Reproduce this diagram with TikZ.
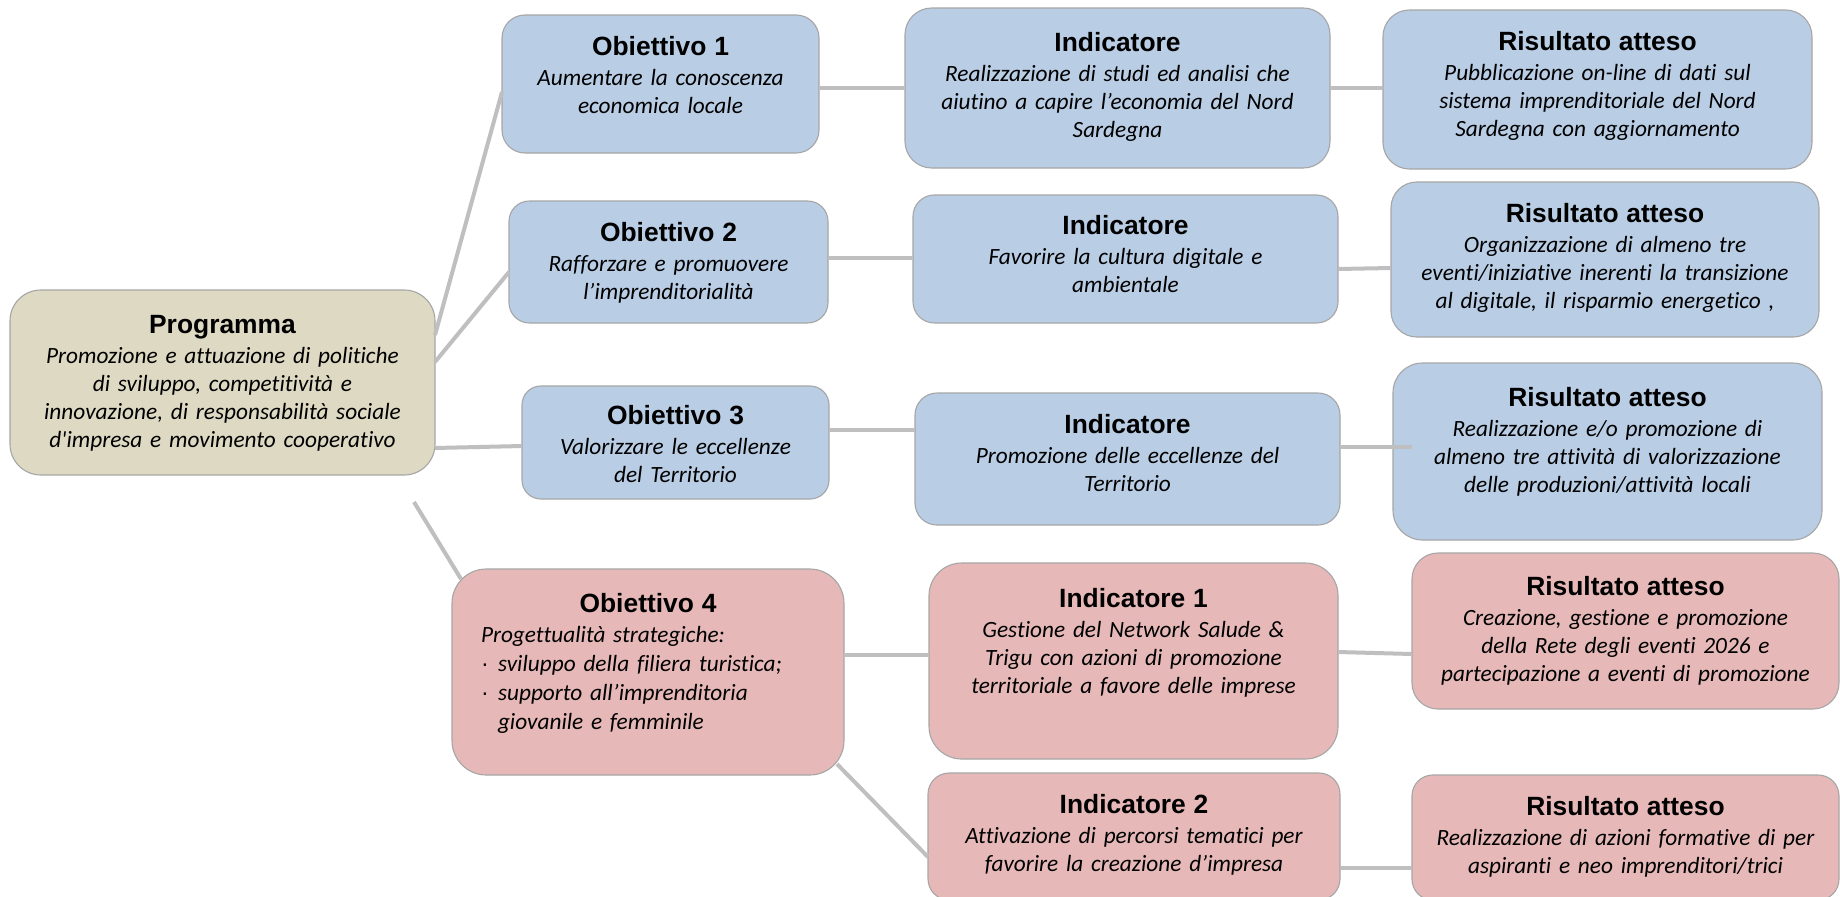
\documentclass[tikz,border=0pt]{standalone}
\usepackage{fontspec}
\setmainfont{Carlito}
\newfontfamily\headf{Liberation Sans}[Ligatures=TeXOff]
\newfontfamily\bodyf{Carlito Italic}[Ligatures={TeXOff,CommonOff}]

\definecolor{boxblue}{HTML}{B9CDE5}
\definecolor{boxbeige}{HTML}{DDD9C3}
\definecolor{boxpink}{HTML}{E6B9B8}
\definecolor{edge}{HTML}{A6A6A6}
\definecolor{linkgray}{HTML}{BFBFBF}

% heading line of a box
\newcommand\hd[1]{{\headf\bfseries\upshape\fontsize{26.4}{28.3}\selectfont #1}}

% box from (x1,y1) to (x2,y2), text base line at y = #7
\newcommand\dbox[8]{%
  \pgfmathsetmacro\bw{#5-#3}%
  \pgfmathsetmacro\bh{#6-#4}%
  \pgfmathsetmacro\br{min(\bw,\bh)/6}%
  \node[frame,#2,minimum width=\bw pt,minimum height=\bh pt,
        rounded corners=\br pt,anchor=north west] (#1) at (#3,#4) {};
  \node[txt,text width=\bw pt] (#1-txt) at ({(#3+#5)/2},#7) {#8};
}

\tikzset{
  frame/.style={draw=edge,line width=1.1pt,inner sep=0pt,outer sep=0pt},
  blue/.style={fill=boxblue},
  beige/.style={fill=boxbeige},
  pink/.style={fill=boxpink},
  txt/.style={inner sep=0pt,anchor=base,align=center,
    font=\bodyf\fontsize{23.3}{28.3}\selectfont},
  link/.style={draw=linkgray,line width=4pt},
}

\begin{document}
\begin{tikzpicture}[x=1pt,y=-1pt]
\fill[white] (0,0) rectangle (1840,897);
\useasboundingbox (0,0) rectangle (1840,897);

% programme
\dbox{prog}{beige}{10}{290}{435}{475}{333}{\hd{Programma}\\[1.7pt]
  Promozione e attuazione di politiche\\ di sviluppo, competitività e\\
  innovazione, di responsabilità sociale\\ d'impresa e movimento cooperativo}

% objectives
\dbox{o1}{blue}{502}{15}{819}{153}{55}{\hd{Obiettivo 1}\\[1.7pt]
  Aumentare la conoscenza\\ economica locale}
\dbox{o2}{blue}{509}{201}{828}{323}{241}{\hd{Obiettivo 2}\\[1.7pt]
  Rafforzare e promuovere\\ l’imprenditorialità}
\dbox{o3}{blue}{522}{386}{829}{499}{424}{\hd{Obiettivo 3}\\[1.7pt]
  Valorizzare le eccellenze\\ del Territorio}
\dbox{o4}{pink}{452}{569}{844}{775}{612}{\hd{Obiettivo 4}\\[1.7pt]
  \parbox[t]{334pt}{\raggedright\baselineskip=29pt
  Progettualità strategiche:\\
  \makebox[17pt][l]{\headf ·}sviluppo della filiera turistica;\\
  \makebox[17pt][l]{\headf ·}supporto all’imprenditoria\\
  \hspace*{17pt}giovanile e femminile}}

% indicators
\dbox{i1}{blue}{905}{8}{1330}{168}{51}{\hd{Indicatore}\\[1.7pt]
  Realizzazione di studi ed analisi che\\ aiutino a capire l’economia del Nord\\ Sardegna}
\dbox{i2}{blue}{913}{195}{1338}{323}{234}{\hd{Indicatore}\\[1.7pt]
  Favorire la cultura digitale e\\ ambientale}
\dbox{i3}{blue}{915}{393}{1340}{525}{433}{\hd{Indicatore}\\[1.7pt]
  Promozione delle eccellenze del\\ Territorio}
\dbox{i4}{pink}{929}{563}{1338}{759}{607}{\hd{Indicatore 1}\\[1.7pt]
  Gestione del Network Salude \&\\ Trigu con azioni di promozione\\
  territoriale a favore delle imprese}
\dbox{i5}{pink}{928}{773}{1340}{900}{813}{\hd{Indicatore 2}\\[1.7pt]
  Attivazione di percorsi tematici per\\ favorire la creazione d’impresa}

% expected results
\dbox{r1}{blue}{1383}{10}{1812}{169}{50}{\hd{Risultato atteso}\\[1.7pt]
  Pubblicazione on-line di dati sul\\ sistema imprenditoriale del Nord\\
  Sardegna con aggiornamento}
\dbox{r2}{blue}{1391}{182}{1819}{337}{222}{\hd{Risultato atteso}\\[1.7pt]
  Organizzazione di almeno tre\\ eventi/iniziative inerenti la transizione\\
  al digitale, il risparmio energetico ,}
\dbox{r3}{blue}{1393}{363}{1822}{540}{406}{\hd{Risultato atteso}\\[1.7pt]
  Realizzazione e/o promozione di\\ almeno tre attività di valorizzazione\\
  delle produzioni/attività locali}
\dbox{r4}{pink}{1412}{553}{1839}{709}{595}{\hd{Risultato atteso}\\[1.7pt]
  Creazione, gestione e promozione\\ della Rete degli eventi 2026 e\\
  partecipazione a eventi di promozione}
\dbox{r5}{pink}{1412}{775}{1839}{900}{815}{\hd{Risultato atteso}\\[1.7pt]
  Realizzazione di azioni formative di per\\ aspiranti e neo imprenditori/trici}

% connectors
\draw[link] ([yshift=-45pt]prog.north east) -- ([yshift=-77pt]o1.north west);
\draw[link] ([yshift=-72pt]prog.north east) -- ([yshift=-71pt]o2.north west);
\draw[link] ([yshift=-158pt]prog.north east) -- ([yshift=-60pt]o3.north west);
\draw[link] ([xshift=-21pt,yshift=-27pt]prog.south east) -- ([xshift=9pt,yshift=-10pt]o4.north west);

\draw[link] ([yshift=-73pt]o1.north east) -- ([yshift=-80pt]i1.north west);
\draw[link] ([yshift=-57pt]o2.north east) -- ([yshift=-63pt]i2.north west);
\draw[link] ([yshift=-44pt]o3.north east) -- ([yshift=-37pt]i3.north west);
\draw[link] ([yshift=-86pt]o4.north east) -- ([yshift=-92pt]i4.north west);
\draw[link] ([xshift=-7pt,yshift=11pt]o4.south east) -- ([yshift=-84pt]i5.north west);

\draw[link] ([yshift=-80pt]i1.north east) -- ([yshift=-78pt]r1.north west);
\draw[link] ([yshift=-74pt]i2.north east) -- ([yshift=-86pt]r2.north west);
\draw[link] ([yshift=-54pt]i3.north east) -- ([xshift=19pt,yshift=-84pt]r3.north west);
\draw[link] ([yshift=-89pt]i4.north east) -- ([yshift=-101pt]r4.north west);
\draw[link] ([yshift=-95pt]i5.north east) -- ([yshift=-93pt]r5.north west);
\end{tikzpicture}
\end{document}
